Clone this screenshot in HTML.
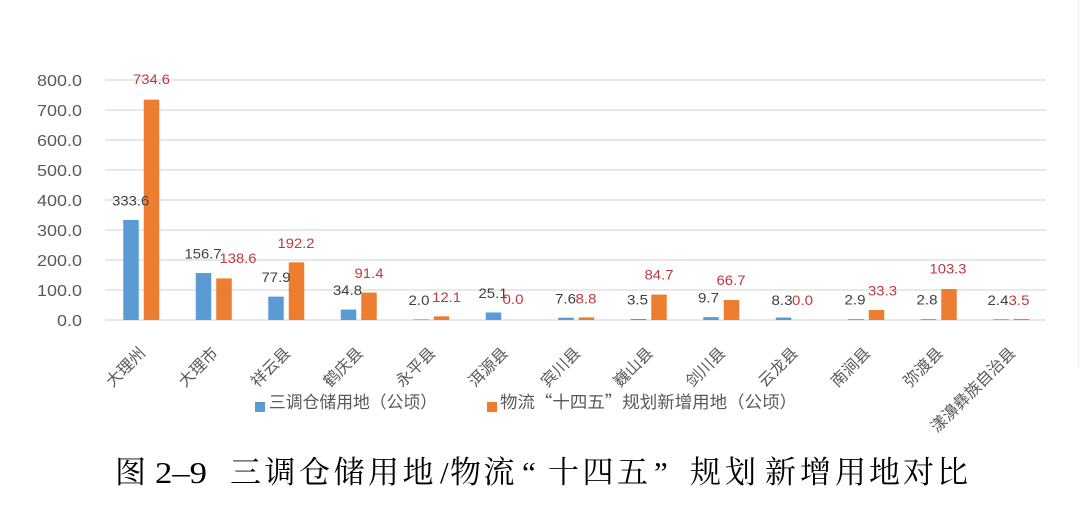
<!DOCTYPE html>
<html>
<head>
<meta charset="utf-8">
<style>
html,body{margin:0;padding:0;background:#fff;}
svg{display:block;}
.yl{font-family:"Liberation Sans","Noto Sans CJK SC",sans-serif;font-size:16px;fill:#595959;}
.bl{font-family:"Liberation Sans",sans-serif;font-size:14px;fill:#404040;}
.ol{font-family:"Liberation Sans",sans-serif;font-size:14px;fill:#C0393F;}
.xl{font-family:"Liberation Sans","Noto Sans CJK SC",sans-serif;font-size:16px;fill:#595959;}
.lg{font-family:"Liberation Sans","Noto Sans CJK SC",sans-serif;font-size:17px;fill:#595959;}
.tt{font-family:"Liberation Serif","Noto Serif CJK SC",serif;font-size:31px;fill:#000;}
.cq{font-family:"Noto Serif CJK SC",serif;}
.cqs{font-family:"Noto Sans CJK SC",sans-serif;}
</style>
</head>
<body>
<svg width="1080" height="505" viewBox="0 0 1080 505" xmlns="http://www.w3.org/2000/svg">
<rect width="1080" height="505" fill="#fff"/>
<line x1="1078.5" y1="0" x2="1078.5" y2="367" stroke="#eeeeee" stroke-width="1"/>
<!-- gridlines -->
<g stroke="#D9D9D9" stroke-width="1.3">
<line x1="105" y1="80" x2="1046" y2="80"/>
<line x1="105" y1="110" x2="1046" y2="110"/>
<line x1="105" y1="140" x2="1046" y2="140"/>
<line x1="105" y1="170" x2="1046" y2="170"/>
<line x1="105" y1="200" x2="1046" y2="200"/>
<line x1="105" y1="230" x2="1046" y2="230"/>
<line x1="105" y1="260" x2="1046" y2="260"/>
<line x1="105" y1="290" x2="1046" y2="290"/>
<line x1="105" y1="320" x2="1046" y2="320"/>
</g>
<!-- y labels -->
<g class="yl" text-anchor="end">
<text x="82" y="86" textLength="45" lengthAdjust="spacingAndGlyphs">800.0</text>
<text x="82" y="116" textLength="45" lengthAdjust="spacingAndGlyphs">700.0</text>
<text x="82" y="146" textLength="45" lengthAdjust="spacingAndGlyphs">600.0</text>
<text x="82" y="176" textLength="45" lengthAdjust="spacingAndGlyphs">500.0</text>
<text x="82" y="206" textLength="45" lengthAdjust="spacingAndGlyphs">400.0</text>
<text x="82" y="236" textLength="45" lengthAdjust="spacingAndGlyphs">300.0</text>
<text x="82" y="266" textLength="45" lengthAdjust="spacingAndGlyphs">200.0</text>
<text x="82" y="296" textLength="45" lengthAdjust="spacingAndGlyphs">100.0</text>
<text x="82" y="326" textLength="25" lengthAdjust="spacingAndGlyphs">0.0</text>
</g>
<!-- bars blue -->
<g fill="#5B9BD5">
<rect x="123.25" y="219.92" width="15.5" height="100.08"/>
<rect x="195.75" y="272.99" width="15.5" height="47.01"/>
<rect x="268.25" y="296.63" width="15.5" height="23.37"/>
<rect x="340.75" y="309.56" width="15.5" height="10.44"/>
<rect x="413.25" y="319.4" width="15.5" height="0.6"/>
<rect x="485.75" y="312.47" width="15.5" height="7.53"/>
<rect x="558.25" y="317.72" width="15.5" height="2.28"/>
<rect x="630.75" y="318.95" width="15.5" height="1.05"/>
<rect x="703.25" y="317.09" width="15.5" height="2.91"/>
<rect x="775.75" y="317.51" width="15.5" height="2.49"/>
<rect x="848.25" y="319.13" width="15.5" height="0.87"/>
<rect x="920.75" y="319.16" width="15.5" height="0.84"/>
<rect x="993.25" y="319.28" width="15.5" height="0.72"/>
</g>
<!-- bars orange -->
<g fill="#ED7D31">
<rect x="143.75" y="99.62" width="15.5" height="220.38"/>
<rect x="216.25" y="278.42" width="15.5" height="41.58"/>
<rect x="288.75" y="262.34" width="15.5" height="57.66"/>
<rect x="361.25" y="292.58" width="15.5" height="27.42"/>
<rect x="433.75" y="316.37" width="15.5" height="3.63"/>
<rect x="578.75" y="317.36" width="15.5" height="2.64"/>
<rect x="651.25" y="294.59" width="15.5" height="25.41"/>
<rect x="723.75" y="299.99" width="15.5" height="20.01"/>
<rect x="868.75" y="310.01" width="15.5" height="9.99"/>
<rect x="941.25" y="289.01" width="15.5" height="30.99"/>
<rect x="1013.75" y="318.95" width="15.5" height="1.05"/>
</g>
<!-- blue labels -->
<g class="bl" text-anchor="middle">
<text x="130.7" y="205.5" textLength="37" lengthAdjust="spacingAndGlyphs">333.6</text>
<text x="203" y="258.5" textLength="37" lengthAdjust="spacingAndGlyphs">156.7</text>
<text x="276" y="282" textLength="29" lengthAdjust="spacingAndGlyphs">77.9</text>
<text x="347.5" y="295" textLength="29" lengthAdjust="spacingAndGlyphs">34.8</text>
<text x="419" y="305" textLength="21" lengthAdjust="spacingAndGlyphs">2.0</text>
<text x="493" y="298" textLength="29" lengthAdjust="spacingAndGlyphs">25.1</text>
<text x="565.5" y="303.5" textLength="21" lengthAdjust="spacingAndGlyphs">7.6</text>
<text x="637.5" y="304.5" textLength="21" lengthAdjust="spacingAndGlyphs">3.5</text>
<text x="708.5" y="302.5" textLength="21" lengthAdjust="spacingAndGlyphs">9.7</text>
<text x="782" y="305" textLength="21" lengthAdjust="spacingAndGlyphs">8.3</text>
<text x="855" y="304.5" textLength="21" lengthAdjust="spacingAndGlyphs">2.9</text>
<text x="927" y="304.5" textLength="21" lengthAdjust="spacingAndGlyphs">2.8</text>
<text x="998" y="305" textLength="21" lengthAdjust="spacingAndGlyphs">2.4</text>
</g>
<!-- orange labels -->
<g class="ol" text-anchor="middle">
<text x="151.5" y="84" textLength="37" lengthAdjust="spacingAndGlyphs">734.6</text>
<text x="238" y="263" textLength="37" lengthAdjust="spacingAndGlyphs">138.6</text>
<text x="296" y="248" textLength="37" lengthAdjust="spacingAndGlyphs">192.2</text>
<text x="369" y="278" textLength="29" lengthAdjust="spacingAndGlyphs">91.4</text>
<text x="446.6" y="302" textLength="29" lengthAdjust="spacingAndGlyphs">12.1</text>
<text x="513" y="304" textLength="21" lengthAdjust="spacingAndGlyphs">0.0</text>
<text x="586" y="303.5" textLength="21" lengthAdjust="spacingAndGlyphs">8.8</text>
<text x="659" y="279.5" textLength="29" lengthAdjust="spacingAndGlyphs">84.7</text>
<text x="731" y="285" textLength="29" lengthAdjust="spacingAndGlyphs">66.7</text>
<text x="802.5" y="305" textLength="21" lengthAdjust="spacingAndGlyphs">0.0</text>
<text x="882.5" y="295.5" textLength="29" lengthAdjust="spacingAndGlyphs">33.3</text>
<text x="948" y="273.5" textLength="37" lengthAdjust="spacingAndGlyphs">103.3</text>
<text x="1019" y="305" textLength="21" lengthAdjust="spacingAndGlyphs">3.5</text>
</g>
<!-- x labels -->
<g class="xl" text-anchor="end">
<text transform="translate(146.5,354) rotate(-45)">大理州</text>
<text transform="translate(219,354) rotate(-45)">大理市</text>
<text transform="translate(291.5,354) rotate(-45)">祥云县</text>
<text transform="translate(364,354) rotate(-45)">鹤庆县</text>
<text transform="translate(436.5,354) rotate(-45)">永平县</text>
<text transform="translate(509,354) rotate(-45)">洱源县</text>
<text transform="translate(581.5,354) rotate(-45)">宾川县</text>
<text transform="translate(654,354) rotate(-45)">巍山县</text>
<text transform="translate(726.5,354) rotate(-45)">剑川县</text>
<text transform="translate(799,354) rotate(-45)">云龙县</text>
<text transform="translate(871.5,354) rotate(-45)">南涧县</text>
<text transform="translate(944,354) rotate(-45)">弥渡县</text>
<text transform="translate(1016.5,354) rotate(-45)">漾濞彝族自治县</text>
</g>
<!-- legend -->
<rect x="255" y="402" width="10" height="10" fill="#5B9BD5"/>
<text class="lg" x="269" y="408" textLength="168" lengthAdjust="spacingAndGlyphs">三调仓储用地（公顷）</text>
<rect x="487" y="402" width="10" height="10" fill="#ED7D31"/>
<text class="lg" x="500" y="408" textLength="297" lengthAdjust="spacingAndGlyphs">物流<tspan class="cqs">“</tspan>十四五<tspan class="cqs">”</tspan>规划新增用地（公顷）</text>
<!-- title -->
<text class="tt" x="115" y="483">图</text>
<text class="tt" x="155" y="483" textLength="52" lengthAdjust="spacingAndGlyphs">2–9</text>
<text class="tt" x="230 264.5 299 333.5 368 402.5 440 450 483.5" y="483">三调仓储用地/物流</text>
<text class="tt" x="522" y="483">“</text>
<text class="tt" x="548 582.5 617" y="483">十四五</text>
<text class="tt" x="654" y="483">”</text>
<text class="tt" x="690 725 765 800 835 869 903 937" y="483">规划新增用地对比</text>
</svg>
</body>
</html>
